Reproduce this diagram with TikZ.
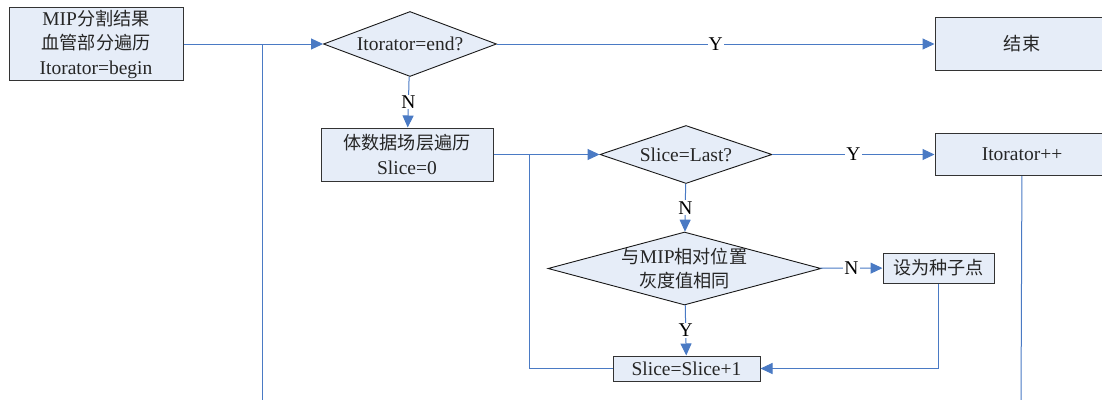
\documentclass[tikz,border=0pt]{standalone}
\usepackage{fontspec}
\setmainfont{Liberation Serif}
\newfontfamily\cjk{Noto Sans CJK SC}[Scale=0.93]
\usetikzlibrary{shapes.geometric,arrows.meta}
\definecolor{flowblue}{RGB}{74,122,196}
\definecolor{boxfill}{RGB}{230,237,248}

\begin{document}
\begin{tikzpicture}[x=100pt,y=-100pt,>={Triangle[length=12pt,width=11pt]},
	every node/.style={font=\fontsize{19.5}{24.5}\selectfont,text=black!85},
	box/.style={draw=black!80,line width=1pt,fill=boxfill,align=center,inner sep=0pt},
	test/.style={diamond,draw=black!90,line width=0.9pt,fill=boxfill,align=center,inner sep=0pt},
	flow/.style={draw=flowblue,line width=1pt},
	yn/.style={fill=white,inner sep=1pt,text=black}]
			\useasboundingbox (0, 0) rectangle (11.02, 3.99);
			\node[box,minimum width=174pt,minimum height=73pt] (start) at (0.96, 0.44) {MIP{\cjk 分割结果}\\{\cjk 血管部分遍历}\\Itorator=begin};
			\node[test,aspect=2.66,minimum width=173pt,minimum height=65pt] (endtest) at (4.10, 0.44) {Itorator=end?};
			\node[box,minimum width=174pt,minimum height=53pt] (finish) at (10.22, 0.44) {\cjk 结束};
			\node[box,minimum width=172pt,minimum height=53pt] (slicebox) at (4.07, 1.545) {{\cjk 体数据场层遍历}\\Slice=0};
			\node[test,aspect=2.97,minimum width=172pt,minimum height=58pt] (lasttest) at (6.86, 1.545) {Slice=Last?};
			\node[box,minimum width=174pt,minimum height=42pt] (next) at (10.22, 1.545) {Itorator++};
			\node[test,aspect=3.74,inner xsep=-9pt,minimum width=273pt,minimum height=73pt] (graytest) at (6.845, 2.685) {{\cjk 与}MIP{\cjk 相对位置}\\{\cjk 灰度值相同}};
			\node[box,minimum width=111pt,minimum height=30pt] (seed) at (9.385, 2.68) {\cjk 设为种子点};
			\node[box,minimum width=147pt,minimum height=25pt] (inc) at (6.865, 3.685) {Slice=Slice+1};
			\coordinate (outer) at (2.62, 0.44);
			\coordinate (outerend) at (2.62, 4.05);
			\coordinate (inner) at (5.29, 1.545);
			\coordinate (nextend) at (10.21, 4.05);
			% connectors
			\draw[flow,->] (start) -- (endtest);
			\draw[flow] (outerend) -- (outer);
			\draw[flow,->] (endtest) -- node[yn] {Y} (finish);
			\draw[flow,->] (endtest) -- node[yn] {N} (slicebox);
			\draw[flow,->] (slicebox) -- (lasttest);
			\draw[flow,->] (lasttest) -- node[yn] {Y} (next);
			\draw[flow] (next) -- (nextend);
			\draw[flow,->] (lasttest) -- node[yn] {N} (graytest);
			\draw[flow,->] (graytest) -- node[yn] {N} (seed);
			\draw[flow,->] (graytest) -- node[yn] {Y} (inc);
			\draw[flow,->] (seed.south) |- (inc.east);
			\draw[flow] (inc.west) -| (inner);
		\end{tikzpicture}
\end{document}
